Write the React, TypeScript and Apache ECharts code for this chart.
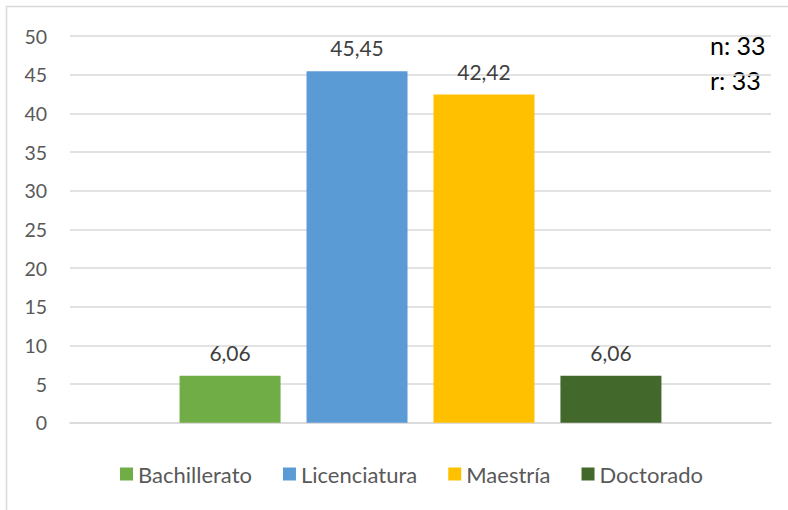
import React, { useEffect, useRef } from "react";
import * as echarts from "echarts";

const categories = [""];
const seriesNames = ["Bachillerato", "Licenciatura", "Maestría", "Doctorado"];
const seriesValues = [6.06, 45.45, 42.42, 6.06];
const seriesColors = ["#70AD47", "#5B9BD5", "#FFC000", "#43682B"];
const noteLines = ["n: 33", "r: 33"];

const FONT = "Lato, 'Noto Sans', sans-serif";

export default function App() {
  const ref = useRef<HTMLDivElement>(null);
  useEffect(() => {
    document.body.style.margin = "0";
    const chart = echarts.init(ref.current!, null, { renderer: "svg" });
    chart.setOption({
      animation: false,
      textStyle: { fontFamily: FONT },
      grid: { left: 70, right: 17, top: 36, bottom: 87.3 },
      legend: {
        top: 458,
        left: 115,
        itemWidth: 13,
        itemHeight: 13,
        itemGap: 31,
        icon: "rect",
        textStyle: { color: "#595959", fontSize: 22, fontFamily: FONT },
        data: seriesNames,
      },
      xAxis: {
        type: "category",
        data: categories,
        axisLine: { lineStyle: { color: "#D9D9D9", width: 1.5 } },
        axisTick: { show: false },
        axisLabel: { show: false },
      },
      yAxis: {
        type: "value",
        min: 0,
        max: 50,
        interval: 5,
        axisLine: { show: false },
        axisTick: { show: false },
        axisLabel: { color: "#595959", fontSize: 19.5, margin: 23, fontFamily: FONT },
        splitLine: { lineStyle: { color: "#D9D9D9", width: 1.5 } },
      },
      series: seriesNames.map((name, i) => ({
        name,
        type: "bar",
        barWidth: 101,
        barGap: "25.7%",
        itemStyle: { color: seriesColors[i] },
        label: {
          show: true,
          position: "top",
          distance: 13,
          color: "#404040",
          fontSize: 21,
          fontFamily: FONT,
          formatter: (p: any) => Number(p.value).toFixed(2).replace(".", ","),
        },
        data: [seriesValues[i]],
      })),
      graphic: [
        {
          type: "rect",
          shape: { x: 6.5, y: 6.5, width: 800, height: 520 },
          style: { fill: "none", stroke: "#D9D9D9", lineWidth: 1.5 },
          silent: true,
        },
        ...noteLines.map((t, i) => ({
          type: "text",
          x: 710,
          y: 45 + i * 35,
          style: {
            text: t,
            fill: "#000000",
            fontSize: 25,
            fontFamily: FONT,
            textAlign: "left",
            textVerticalAlign: "middle",
          },
        })),
      ],
    });
    return () => chart.dispose();
  }, []);
  return <div ref={ref} style={{ width: 788, height: 510 }} />;
}
